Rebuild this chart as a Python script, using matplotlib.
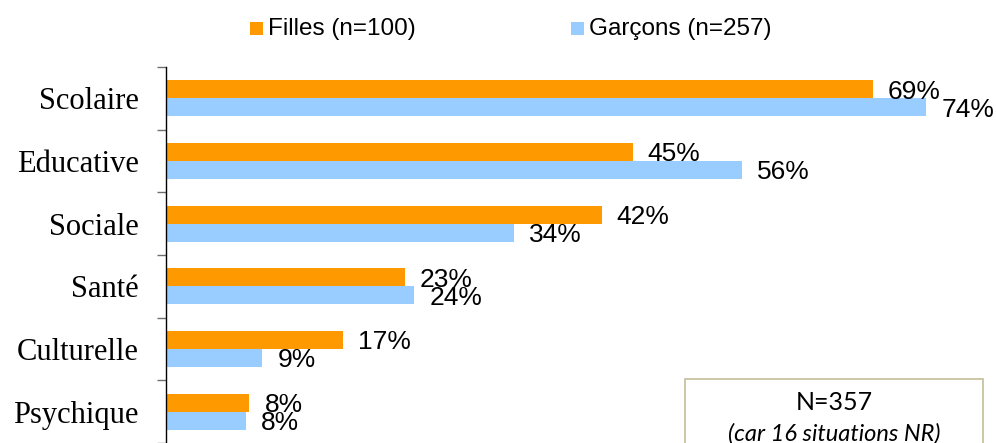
import numpy as np
import matplotlib
matplotlib.use('Agg')
import matplotlib.pyplot as plt
from matplotlib.patches import Rectangle

plt.rcParams["font.family"] = "Liberation Sans"

# data (percent)
categories = ['Scolaire', 'Educative', 'Sociale', 'Santé', 'Culturelle', 'Psychique']
filles = [68.6, 45.3, 42.3, 23.2, 17.2, 8.1]
garcons = [73.8, 55.9, 33.8, 24.1, 9.35, 7.8]
series_names = ['Filles (n=100)', 'Garçons (n=257)']
note_lines = ['N=357', '(car 16 situations NR)']

col_f = '#FF9900'
col_g = '#99CCFF'
W, H = 996, 443


def fx(px):
    return px / W


def fy(py):
    return 1 - py / H


def main():
    fig = plt.figure(figsize=(9.96, 4.43), dpi=100)
    ax = fig.add_axes([fx(166), fy(443), fx(824), (443 - 67) / H])

    y = np.arange(len(categories))
    bh = 0.288
    ax.barh(y - bh / 2, filles, height=bh, color=col_f)
    ax.barh(y + bh / 2, garcons, height=bh, color=col_g)

    px_per_unit = 824 / 80
    dy = 0.035  # labels sit a touch below the bar centre
    for yi, v in zip(y, filles):
        ax.text(v + 15 / px_per_unit, yi - bh / 2 + dy, '%.0f%%' % v, va='center', ha='left', fontsize=19)
    for yi, v in zip(y, garcons):
        ax.text(v + 15 / px_per_unit, yi + bh / 2 + dy, '%.0f%%' % v, va='center', ha='left', fontsize=19)

    ax.set_xlim(0, 80)
    ax.set_ylim(len(categories) - 0.5, -0.5)
    ax.set_yticks(y)
    ax.set_yticklabels(categories, fontfamily='Liberation Serif', fontsize=22)
    ax.set_yticks(np.arange(-0.5, len(categories)), minor=True)
    ax.tick_params(axis='y', which='major', length=0, pad=19.5)
    ax.tick_params(axis='y', which='minor', length=6.5, width=1, color='#707070', direction='out')
    ax.set_xticks([])
    for s in ['top', 'right', 'bottom']:
        ax.spines[s].set_visible(False)
    ax.spines['left'].set_linewidth(1)

    # legend drawn by hand at the top
    for (x0, name, c) in [(250, series_names[0], col_f), (571, series_names[1], col_g)]:
        fig.add_artist(Rectangle((fx(x0), fy(35)), fx(13), 13 / H, transform=fig.transFigure,
                                 facecolor=c, edgecolor='none'))
        fig.text(fx(x0 + 18), fy(29), name, fontsize=17.5, va='center', ha='left')

    # note box in the lower right, cut by the figure edge
    fig.add_artist(Rectangle((fx(685), fy(470)), fx(298), 91 / H, transform=fig.transFigure,
                             facecolor='white', edgecolor='#C4BD97', linewidth=1.2, clip_on=False))
    fig.text(fx(834), fy(402), note_lines[0], fontfamily='Lato', fontsize=18,
             ha='center', va='center')
    fig.text(fx(834), fy(434), note_lines[1], fontfamily='Lato', fontstyle='italic',
             fontsize=17, ha='center', va='center')

    fig.savefig('out.png', dpi=100)


if __name__ == '__main__':
    main()
